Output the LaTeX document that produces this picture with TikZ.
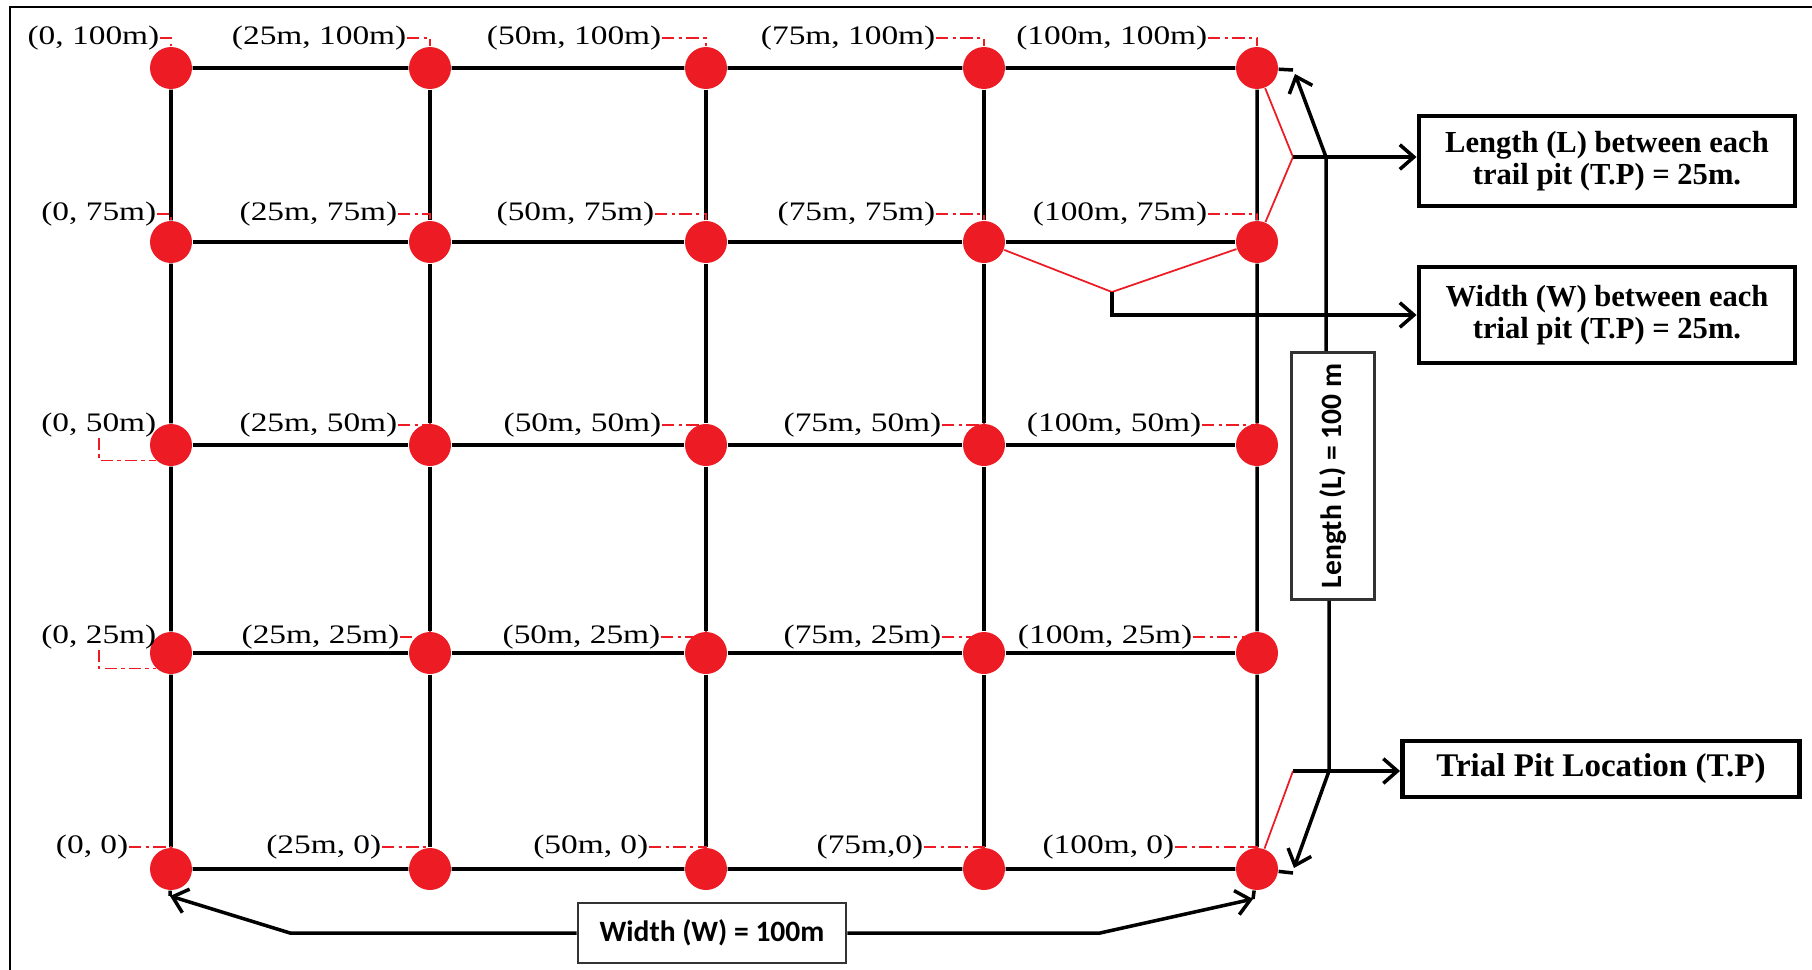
\documentclass[tikz,border=0pt]{standalone}
\usepackage{fontspec}
\setmainfont{Liberation Serif}
\newfontfamily\lblfont[FakeStretch=1.25]{Liberation Serif}
\newfontfamily\dimfont{Carlito}
\usetikzlibrary{arrows.meta}

\definecolor{pitred}{HTML}{ED1C24}

\begin{document}
\begin{tikzpicture}[x=1cm, y=-1cm, >={Straight Barb[length=4pt,width=7pt]},
	pit/.style={circle, fill=pitred, minimum size=0.42cm, inner sep=0pt},
	lbl/.style={anchor=east, inner sep=0pt, font=\lblfont\fontsize{7.6}{9}\selectfont},
	leader/.style={draw=pitred, line width=0.45pt, dash pattern=on 3.5pt off 1.2pt on 1pt off 1.2pt},
	gridline/.style={line width=1pt},
	redline/.style={draw=pitred, line width=0.5pt},
	pointer/.style={->, line width=1pt},
	infobox/.style={draw, line width=1.4pt, align=center, inner sep=1pt, font=\fontsize{8.7}{9}\selectfont\bfseries},
	dimbox/.style={draw=black!80, line width=0.8pt, inner sep=0pt, font=\dimfont\fontsize{8.4}{9}\selectfont\bfseries}]

	\useasboundingbox (0,0) rectangle (18.12,9.70);
	\draw[line width=0.6pt] (0.10,9.70) -- (0.10,0.07) -- (18.12,0.07);

	% trial pits on the 25m grid
	\foreach \r/\y in {1/0.68, 2/2.42, 3/4.45, 4/6.53, 5/8.69}
		\foreach \c/\x in {1/1.71, 2/4.30, 3/7.06, 4/9.84, 5/12.57}
			\node[pit] (p\r\c) at (\x,\y) {};

	% bends and arrow ends
	\coordinate (e1) at (12.93,0.70);
	\coordinate (e2) at (12.93,8.73);
	\coordinate (v1) at (12.93,1.57);
	\coordinate (v2) at (11.12,2.92);
	\coordinate (v3) at (12.93,7.71);
	\coordinate (k1) at (13.26,1.57);
	\coordinate (k2) at (13.29,7.71);
	\coordinate (tl1) at (12.95,0.74);
	\coordinate (tl2) at (12.94,8.68);
	\coordinate (w1) at (2.90,9.33);
	\coordinate (w2) at (11.00,9.33);
	\coordinate (tw1) at (1.70,8.96);
	\coordinate (tw2) at (12.53,8.99);

	% grid lines
	\draw[gridline] (p11) -- (p12) -- (p13) -- (p14) -- (p15) -- (e1);
	\draw[gridline] (p21) -- (p22) -- (p23) -- (p24) -- (p25);
	\draw[gridline] (p31) -- (p32) -- (p33) -- (p34) -- (p35);
	\draw[gridline] (p41) -- (p42) -- (p43) -- (p44) -- (p45);
	\draw[gridline] (p51) -- (p52) -- (p53) -- (p54) -- (p55) -- (e2);
	\draw[gridline] (p11) -- (p21) -- (p31) -- (p41) -- (p51) -- (tw1);
	\draw[gridline] (p12) -- (p22) -- (p32) -- (p42) -- (p52);
	\draw[gridline] (p13) -- (p23) -- (p33) -- (p43) -- (p53);
	\draw[gridline] (p14) -- (p24) -- (p34) -- (p44) -- (p54);
	\draw[gridline] (p15) -- (p25) -- (p35) -- (p45) -- (p55) -- (tw2);

	% coordinates of each pit
	\node[lbl] (l11) at (1.60,0.38) {(0, 100m)};
	\node[lbl] (l12) at (4.07,0.38) {(25m, 100m)};
	\node[lbl] (l13) at (6.62,0.38) {(50m, 100m)};
	\node[lbl] (l14) at (9.36,0.38) {(75m, 100m)};
	\node[lbl] (l15) at (12.08,0.38) {(100m, 100m)};
	\node[lbl] (l21) at (1.57,2.14) {(0, 75m)};
	\node[lbl] (l22) at (3.98,2.14) {(25m, 75m)};
	\node[lbl] (l23) at (6.55,2.14) {(50m, 75m)};
	\node[lbl] (l24) at (9.36,2.14) {(75m, 75m)};
	\node[lbl] (l25) at (12.08,2.14) {(100m, 75m)};
	\node[lbl] (l31) at (1.57,4.25) {(0, 50m)};
	\node[lbl] (l32) at (3.98,4.25) {(25m, 50m)};
	\node[lbl] (l33) at (6.62,4.25) {(50m, 50m)};
	\node[lbl] (l34) at (9.42,4.25) {(75m, 50m)};
	\node[lbl] (l35) at (12.02,4.25) {(100m, 50m)};
	\node[lbl] (l41) at (1.57,6.37) {(0, 25m)};
	\node[lbl] (l42) at (4.00,6.37) {(25m, 25m)};
	\node[lbl] (l43) at (6.61,6.37) {(50m, 25m)};
	\node[lbl] (l44) at (9.42,6.37) {(75m, 25m)};
	\node[lbl] (l45) at (11.93,6.37) {(100m, 25m)};
	\node[lbl] (l51) at (1.29,8.47) {(0, 0)};
	\node[lbl] (l52) at (3.82,8.47) {(25m, 0)};
	\node[lbl] (l53) at (6.49,8.47) {(50m, 0)};
	\node[lbl] (l54) at (9.24,8.47) {(75m,0)};
	\node[lbl] (l55) at (11.75,8.47) {(100m, 0)};

	\foreach \n in {11,12,13,14,15,21,22,23,24,25,32,33,34,35,42,43,44,45,51,52,53,54,55}
		\draw[leader] (l\n.east) -| (p\n.north);
	\draw[leader] (l31.south) |- (p31.south west);
	\draw[leader] (l41.south) |- (p41.south west);

	% notes on the right
	\node[infobox, minimum width=3.76cm, minimum height=0.90cm] (lenstep) at (16.07,1.61) {Length (L) between each\\trail pit (T.P) = 25m.};
	\node[infobox, minimum width=3.76cm, minimum height=0.96cm] (widstep) at (16.07,3.15) {Width (W) between each\\trial pit (T.P) = 25m.};
	\node[infobox, minimum width=3.97cm, minimum height=0.56cm, font=\fontsize{9.4}{10}\selectfont\bfseries] (tpbox) at (16.01,7.69) {Trial Pit Location (T.P)};

	\draw[redline] (p15) -- (v1) -- (p25);
	\draw[redline] (p24) -- (v2) -- (p25);
	\draw[redline] (p55) -- (v3);
	\draw[pointer] (v1) -- (v1 -| lenstep.west);
	\draw[pointer] (v2) |- (widstep.west);
	\draw[pointer] (v3) -- (v3 -| tpbox.west);

	% overall dimensions
	\node[dimbox, minimum width=0.83cm, minimum height=2.47cm] (lbox) at (13.33,4.76) {\rotatebox{90}{Length (L) = 100 m}};
	\node[dimbox, minimum width=2.68cm, minimum height=0.60cm] (wbox) at (7.12,9.33) {Width (W) = 100m};

	\draw[pointer] (lbox.north -| k1) -- (k1) -- (tl1);
	\draw[pointer] (lbox.south -| k2) -- (k2) -- (tl2);
	\draw[pointer] (wbox.west) -- (w1) -- (tw1);
	\draw[pointer] (wbox.east) -- (w2) -- (tw2);
\end{tikzpicture}
\end{document}
